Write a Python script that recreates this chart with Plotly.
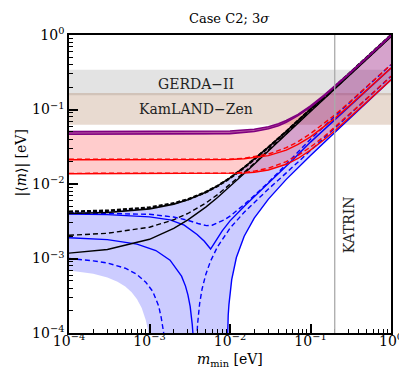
import plotly.graph_objects as go

# ---------------- data (all in eV) ----------------
# experimental bands
gerda_band = [0.155, 0.342]
kamland_band = [0.0625, 0.166]
katrin_limit = 0.2

# inverted ordering: upper edge (two purple lines)
io_max_x = [1e-4, 1e-3, 5e-3, 1e-2, 2e-2, 3e-2, 4e-2, 5e-2, 7e-2, 0.1, 0.15, 0.2, 0.3, 0.5, 1.0]
io_max_hi = [0.0505, 0.0505, 0.0507, 0.0515, 0.0543, 0.0587, 0.0644, 0.0711, 0.0860, 0.112, 0.158, 0.206, 0.304, 0.5025, 1.0]
io_max_lo = [0.0465, 0.0465, 0.0467, 0.0475, 0.0506, 0.0551, 0.0607, 0.0674, 0.0826, 0.1075, 0.1535, 0.2003, 0.2962, 0.490, 0.976]

# inverted ordering: lower lines (red)
io_min_x = [1e-4, 1e-3, 5e-3, 1e-2, 1.5e-2, 2e-2, 3e-2, 5e-2, 7e-2, 0.1, 0.15, 0.2, 0.3, 0.5, 1.0]
io_up_solid = [0.0212, 0.0212, 0.0212, 0.0213, 0.0218, 0.0225, 0.0240, 0.0285, 0.0340, 0.0430, 0.0595, 0.0760, 0.111, 0.181, 0.36]
io_up_dash = [0.0215, 0.0215, 0.0215, 0.0216, 0.0222, 0.0232, 0.0252, 0.0308, 0.0370, 0.0474, 0.0660, 0.0845, 0.1235, 0.201, 0.40]
io_lo_solid = [0.0137, 0.0137, 0.0137, 0.0137, 0.0140, 0.0144, 0.0154, 0.0184, 0.0220, 0.0285, 0.0398, 0.052, 0.0765, 0.126, 0.251]
io_lo_dash = [0.0139, 0.0139, 0.0139, 0.0140, 0.0143, 0.0149, 0.0163, 0.0200, 0.0242, 0.0313, 0.0440, 0.0577, 0.085, 0.140, 0.279]

# normal ordering: black lines
black_x = [1e-4, 3e-4, 1e-3, 2e-3, 3e-3, 5e-3, 7e-3, 1e-2, 1.5e-2, 2e-2, 3e-2, 5e-2, 0.1, 0.2, 0.5, 1.0]
black_top_dash = [4.26e-3, 4.38e-3, 4.83e-3, 5.51e-3, 6.23e-3, 7.77e-3, 9.41e-3, 0.0120, 0.0166, 0.0213, 0.0310, 0.0506, 0.1002, 0.1998, 0.499, 0.998]
black_top_solid = [4.02e-3, 4.15e-3, 4.64e-3, 5.37e-3, 6.13e-3, 7.74e-3, 9.43e-3, 0.0121, 0.0167, 0.0215, 0.0312, 0.0508, 0.1004, 0.2002, 0.500, 1.0]
black_low_dash = [2.05e-3, 2.18e-3, 2.63e-3, 3.31e-3, 4.02e-3, 5.55e-3, 7.19e-3, 9.79e-3, 0.0143, 0.0190, 0.0284, 0.0475, 0.0953, 0.1907, 0.477, 0.954]
black_low_solid = [1.18e-3, 1.32e-3, 1.81e-3, 2.54e-3, 3.30e-3, 4.90e-3, 6.58e-3, 9.22e-3, 0.0138, 0.0184, 0.0279, 0.0468, 0.0942, 0.1887, 0.472, 0.944]

# normal ordering: blue lines
blue_cusp_x = [1e-4, 3e-4, 1e-3, 1.8e-3, 2.7e-3, 3.9e-3, 4.8e-3, 5.3e-3, 5.74e-3, 6.2e-3, 6.78e-3, 8e-3, 1e-2, 1.55e-2, 2.5e-2, 4e-2, 6e-2, 0.1, 0.2, 0.5, 1.0]
blue_cusp_y = [3.95e-3, 3.88e-3, 3.62e-3, 3.3e-3, 2.8e-3, 2.1e-3, 1.7e-3, 1.5e-3, 1.34e-3, 1.52e-3, 1.77e-3, 2.35e-3, 3.2e-3, 5.2e-3, 8.5e-3, 0.0136, 0.0210, 0.0365, 0.073, 0.18, 0.36]

blue_dip_x = [1e-4, 3e-4, 1e-3, 2e-3, 3e-3, 4e-3, 5.1e-3, 6e-3, 7e-3, 8.5e-3, 1e-2, 1.2e-2, 1.5e-2, 2e-2, 2.5e-2, 3e-2, 5e-2, 0.1, 0.2, 0.5, 1.0]
blue_dip_y = [4.1e-3, 4.05e-3, 3.92e-3, 3.6e-3, 3.25e-3, 2.95e-3, 2.76e-3, 2.8e-3, 3.0e-3, 3.3e-3, 3.7e-3, 4.3e-3, 5.3e-3, 7.0e-3, 8.7e-3, 0.0105, 0.0185, 0.040, 0.081, 0.20, 0.40]

blue_mid_x = [1e-4, 3e-4, 7e-4, 1.2e-3, 1.8e-3, 2.5e-3, 2.8e-3, 3.0e-3, 3.2e-3, 3.3e-3, 3.4e-3, 3.46e-3, 3.55e-3]
blue_mid_y = [1.9e-3, 1.79e-3, 1.56e-3, 1.28e-3, 0.95e-3, 0.58e-3, 0.426e-3, 0.325e-3, 0.227e-3, 0.178e-3, 0.129e-3, 1.0e-4, 5.5e-5]

blue_low_x = [1e-4, 2e-4, 3e-4, 5e-4, 7e-4, 9e-4, 1.1e-3, 1.3e-3, 1.4e-3, 1.5e-3, 1.56e-3]
blue_low_y = [1.0e-3, 9.3e-4, 8.7e-4, 7.4e-4, 6.1e-4, 4.8e-4, 3.6e-4, 2.3e-4, 1.6e-4, 1.0e-4, 6.0e-5]

blue_rise_dash_x = [3.75e-3, 3.88e-3, 3.95e-3, 4.2e-3, 4.5e-3, 5e-3, 5.7e-3, 7e-3, 1e-2, 1.5e-2, 2e-2, 3e-2, 5e-2, 0.1, 0.2, 0.5, 1.0]
blue_rise_dash_y = [4e-5, 1.0e-4, 1.3e-4, 2.5e-4, 3.9e-4, 6.1e-4, 9.1e-4, 1.44e-3, 2.55e-3, 4.18e-3, 5.69e-3, 8.56e-3, 0.0141, 0.0280, 0.0559, 0.1395, 0.279]

blue_rise_solid_x = [9.1e-3, 9.3e-3, 9.5e-3, 9.7e-3, 1.05e-2, 1.2e-2, 1.5e-2, 2e-2, 3e-2, 5e-2, 7e-2, 0.1, 0.2, 0.5, 1.0]
blue_rise_solid_y = [2.9e-5, 1.0e-4, 1.73e-4, 2.4e-4, 5.2e-4, 1.03e-3, 1.99e-3, 3.48e-3, 6.27e-3, 0.01154, 0.01665, 0.0242, 0.049, 0.1229, 0.250]

# lower-left edge of the blue region
blue_edge_x = [1e-4, 2e-4, 3e-4, 4e-4, 5e-4, 6e-4, 7e-4, 8e-4, 9e-4, 9.5e-4, 1.0e-3, 1.05e-3, 1.1e-3]
blue_edge_y = [6.92e-4, 6.24e-4, 5.56e-4, 4.88e-4, 4.2e-4, 3.52e-4, 2.84e-4, 2.16e-4, 1.48e-4, 1.14e-4, 8.0e-5, 4.6e-5, 1.2e-5]
floor_y = 1e-7

decades = [1e-4, 1e-3, 1e-2, 1e-1, 1.0]
decade_text = ["10<sup>\u22124</sup>", "10<sup>\u22123</sup>", "10<sup>\u22122</sup>", "10<sup>\u22121</sup>", "10<sup>0</sup>"]
minor_vals = [k * d for d in [1e-4, 1e-3, 1e-2, 1e-1] for k in range(2, 10)]

FONT = "DejaVu Serif"
BLUE = "#0000ff"
RED = "#ff0000"
PURPLE = "#800080"

fig = go.Figure()

# blue (normal ordering) region
fx = black_x + blue_rise_solid_x[::-1] + [9.0e-3, 1.12e-3] + blue_edge_x[::-1]
fy = black_top_dash + blue_rise_solid_y[::-1] + [floor_y, floor_y] + blue_edge_y[::-1]
fig.add_trace(go.Scatter(x=fx, y=fy, fill="toself", fillcolor="rgba(0,0,255,0.2)",
                         line=dict(width=0), mode="lines", hoverinfo="skip"))
# red (inverted ordering) region
fig.add_trace(go.Scatter(x=io_max_x + io_min_x[::-1], y=io_max_hi + io_lo_solid[::-1], fill="toself",
                         fillcolor="rgba(255,0,0,0.2)", line=dict(width=0), mode="lines", hoverinfo="skip"))
# purple upper strip
fig.add_trace(go.Scatter(x=io_max_x + io_max_x[::-1], y=io_max_hi + io_max_lo[::-1], fill="toself",
                         fillcolor="rgba(128,0,128,0.55)", line=dict(width=0), mode="lines", hoverinfo="skip"))


def add_line(x, y, color, width=1.4, dash="solid"):
    fig.add_trace(go.Scatter(x=x, y=y, mode="lines", line=dict(color=color, width=width, dash=dash),
                             hoverinfo="skip"))


DASH = "5px,3px"
# blue lines
add_line(blue_low_x, blue_low_y, BLUE, dash=DASH)
add_line(blue_mid_x, blue_mid_y, BLUE)
add_line(blue_rise_dash_x, blue_rise_dash_y, BLUE, dash=DASH)
add_line(blue_rise_solid_x, blue_rise_solid_y, BLUE)
add_line(blue_cusp_x, blue_cusp_y, BLUE)
add_line(blue_dip_x, blue_dip_y, BLUE, dash=DASH)
# black lines
add_line(black_x, black_low_solid, "black")
add_line(black_x, black_low_dash, "black", dash=DASH)
add_line(black_x, black_top_solid, "black", width=1.6)
add_line(black_x, black_top_dash, "black", width=2.4, dash="4px,2px")
# red lines
add_line(io_min_x, io_lo_solid, RED)
add_line(io_min_x, io_lo_dash, RED, dash=DASH)
add_line(io_min_x, io_up_solid, RED)
add_line(io_min_x, io_up_dash, RED, dash=DASH)
# purple lines
add_line(io_max_x, io_max_hi, PURPLE, width=1.6)
add_line(io_max_x, io_max_lo, PURPLE, width=1.6)

shapes = [
    dict(type="rect", xref="x domain", x0=0, x1=1, yref="y", y0=gerda_band[0], y1=gerda_band[1],
         fillcolor="rgba(0,0,0,0.11)", line=dict(width=0), layer="below"),
    dict(type="rect", xref="x domain", x0=0, x1=1, yref="y", y0=kamland_band[0], y1=kamland_band[1],
         fillcolor="rgba(139,69,19,0.2)", line=dict(width=0), layer="below"),
    dict(type="line", xref="x", x0=katrin_limit, x1=katrin_limit, yref="y domain", y0=0, y1=1,
         line=dict(color="#aaaaaa", width=1.3)),
]

annotations = [
    dict(text="Case C2; 3<i>\u03c3</i>", xref="paper", yref="paper", x=0.497, y=1.057,
         showarrow=False, font=dict(family=FONT, size=13, color="black"), xanchor="center", yanchor="middle"),
    dict(text="GERDA\u2212II", xref="x", yref="y", x=-2.42, y=-0.66, showarrow=False,
         font=dict(family=FONT, size=14, color="#222222"), xanchor="center", yanchor="middle"),
    dict(text="KamLAND\u2212Zen", xref="x", yref="y", x=-2.42, y=-0.99, showarrow=False,
         font=dict(family=FONT, size=14, color="#222222"), xanchor="center", yanchor="middle"),
    dict(text="KATRIN", xref="x", yref="y", x=-0.518, y=-2.55, showarrow=False, textangle=-90,
         font=dict(family=FONT, size=14, color="#222222"), xanchor="center", yanchor="middle"),
    dict(text="|\u27e8<i>m</i>\u27e9| [eV]", xref="paper", yref="paper", x=-0.148, y=0.57, showarrow=False,
         textangle=-90, font=dict(family=FONT, size=14, color="black"), xanchor="center", yanchor="middle"),
    dict(text="<i>m</i><sub>min</sub> [eV]", xref="paper", yref="paper", x=0.5, y=-0.092, showarrow=False,
         font=dict(family=FONT, size=14, color="black"), xanchor="center", yanchor="middle"),
]

axis_common = dict(type="log", range=[-4, 0], showgrid=False, zeroline=False, showline=True,
                   linecolor="black", linewidth=1.6, mirror=True, ticks="inside", ticklen=9,
                   tickwidth=1.5, tickcolor="black", tickmode="array", tickvals=decades,
                   ticktext=decade_text, tickfont=dict(family=FONT, size=14, color="black"),
                   minor=dict(tickmode="array", tickvals=minor_vals, ticks="inside", ticklen=4.5,
                              tickwidth=1.3, tickcolor="black", showgrid=False))

xaxis = dict(axis_common, ticklabelstandoff=-6)
yaxis = dict(axis_common)

fig.update_layout(
    width=407, height=370, margin=dict(l=61, r=14, t=27, b=45),
    paper_bgcolor="white", plot_bgcolor="white", showlegend=False,
    xaxis=xaxis, yaxis=yaxis, shapes=shapes, annotations=annotations,
)

fig.write_html("out.html")
